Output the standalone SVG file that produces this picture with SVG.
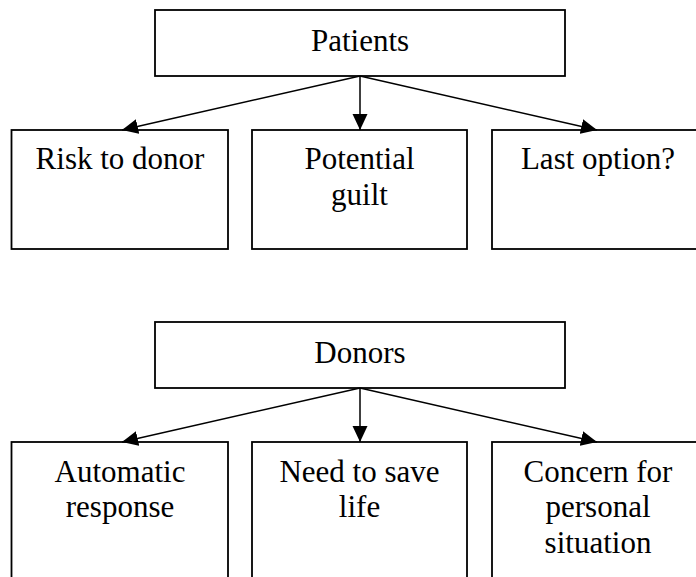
<svg xmlns="http://www.w3.org/2000/svg" width="696" height="577" viewBox="0 0 696 577">
<style>
.box{fill:#fff;stroke:#000;stroke-width:1.8}
text{font-family:'Liberation Serif','Times New Roman',Times,'DejaVu Serif','Noto Serif',serif;font-size:31px;fill:#000;text-anchor:middle}
.c{stroke:#000;stroke-width:1.5;fill:none}
</style>
<defs>
<marker id="ah" markerUnits="userSpaceOnUse" markerWidth="16" markerHeight="16" viewBox="0 0 16 16" refX="16" refY="8" orient="auto">
<path d="M0,0.5 L16,8 L0,15.5 Z" fill="#000"/>
</marker>
</defs>
<rect width="696" height="577" fill="#fff"/>
<g id="patients"><rect class="box" x="155" y="10" width="410" height="66"/><text x="360" y="51" font-family="Liberation Serif">Patients</text></g>
<g id="risk"><rect class="box" x="11.5" y="130" width="216.5" height="119"/><text x="120" y="169">Risk to donor</text></g>
<g id="guilt"><rect class="box" x="252" y="130" width="215" height="119"/><text x="359.5" y="169">Potential</text><text x="359.5" y="205">guilt</text></g>
<g id="last"><rect class="box" x="492" y="130" width="216" height="119"/><text x="598" y="169">Last option?</text></g>
<g id="donors"><rect class="box" x="155" y="322" width="410" height="66"/><text x="360" y="363">Donors</text></g>
<g id="automatic"><rect class="box" x="11.5" y="442" width="216.5" height="150"/><text x="120" y="482">Automatic</text><text x="120" y="517">response</text></g>
<g id="need"><rect class="box" x="252" y="442" width="215" height="150"/><text x="359.5" y="482">Need to save</text><text x="359.5" y="517">life</text></g>
<g id="concern"><rect class="box" x="492" y="442" width="216" height="150"/><text x="598" y="482">Concern for</text><text x="598" y="517">personal</text><text x="598" y="553">situation</text></g>
<g id="connectors">
<line class="c" x1="360" y1="76" x2="122" y2="130" marker-end="url(#ah)"/>
<line class="c" x1="360" y1="76" x2="360" y2="130" marker-end="url(#ah)"/>
<line class="c" x1="360" y1="76" x2="597" y2="130" marker-end="url(#ah)"/>
<line class="c" x1="360" y1="388" x2="122" y2="442" marker-end="url(#ah)"/>
<line class="c" x1="360" y1="388" x2="360" y2="442" marker-end="url(#ah)"/>
<line class="c" x1="360" y1="388" x2="597" y2="442" marker-end="url(#ah)"/>
</g>
</svg>
